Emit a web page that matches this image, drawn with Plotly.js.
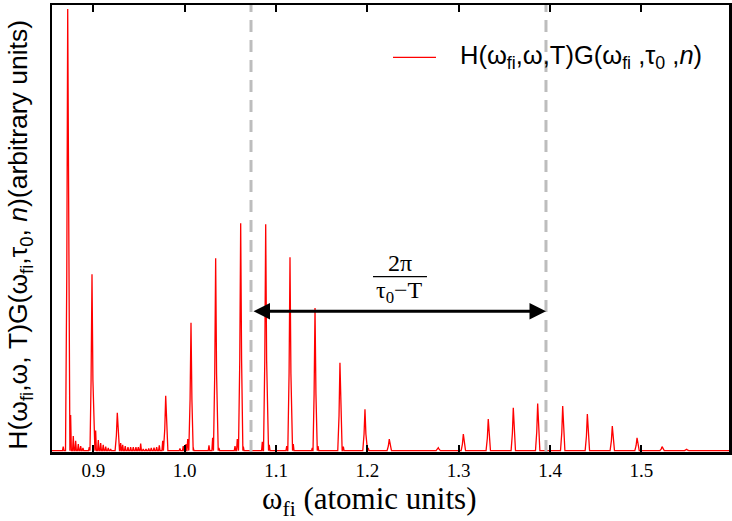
<!DOCTYPE html>
<html>
<head>
<meta charset="utf-8">
<script src="https://cdn.plot.ly/plotly-3.0.1.min.js"></script>
<style>html,body{margin:0;padding:0;background:#fff;}#chart{width:732px;height:521px;}</style>
</head>
<body>
<div id="chart"></div>
<script>
// Main resonance peaks: centre frequency (atomic units) and height (arbitrary units)
const peakOmega = [0.8719, 0.8985, 0.9262, 0.9792, 1.0069, 1.0339, 1.0613, 1.0887, 1.1153, 1.1427, 1.1700, 1.1974, 1.2240, 1.2777, 1.3051, 1.3324, 1.3598, 1.3865, 1.4139, 1.4409, 1.4682, 1.4953, 1.5227, 1.5497];
const peakHeight = [0.991, 0.396, 0.085, 0.123, 0.287, 0.432, 0.510, 0.508, 0.434, 0.320, 0.197, 0.093, 0.026, 0.0067, 0.037, 0.071, 0.096, 0.106, 0.100, 0.082, 0.055, 0.029, 0.009, 0.003];
// Small side lobes next to the peaks
const lobeOmega = [0.8670, 0.8751, 0.8780, 0.8806, 0.8835, 0.8861, 0.8886, 0.8955, 0.9025, 0.9054, 0.9080, 0.9108, 0.9135, 0.9163, 0.9189, 0.9299, 0.9321, 0.9349, 0.9379, 0.9408, 0.9437, 0.9466, 0.9492, 0.9518, 0.9546, 0.9576, 0.9606, 0.9634, 0.9664, 0.9693, 0.9722, 0.9759, 0.9948, 0.9984, 1.0014, 1.0033, 1.0094, 1.0266, 1.0306, 1.0375, 1.0551, 1.0576, 1.0642, 1.0850, 1.0926, 1.1117, 1.1189, 1.1397, 1.1460, 1.1737, 1.2010];
const lobeHeight = [0.009, 0.080, 0.033, 0.022, 0.015, 0.010, 0.006, 0.008, 0.045, 0.024, 0.017, 0.013, 0.009, 0.006, 0.004, 0.017, 0.013, 0.010, 0.008, 0.008, 0.008, 0.008, 0.008, 0.016, 0.004, 0.004, 0.005, 0.006, 0.007, 0.008, 0.012, 0.022, 0.005, 0.010, 0.015, 0.026, 0.006, 0.012, 0.029, 0.006, 0.010, 0.026, 0.009, 0.020, 0.013, 0.010, 0.015, 0.006, 0.010, 0.009, 0.006];
const tickValues = [0.9, 1.0, 1.1, 1.2, 1.3, 1.4, 1.5];
const tickLabels = ['0.9', '1.0', '1.1', '1.2', '1.3', '1.4', '1.5'];
const markerOmega = [1.0726, 1.3956];   // dashed guide lines
const arrowLevel = 0.3131;
const seriesName = 'H(ω<sub>fi</sub>,ω,T)G(ω<sub>fi</sub> ,τ<sub>0</sub> ,<i>n</i>)';
const xTitle = 'ω<sub>fi</sub> (atomic units)';
const yTitle = 'H(ω<sub>fi</sub>,ω, T)G(ω<sub>fi</sub>,τ<sub>0</sub>, <i>n</i>)(arbitrary units)';
const xRange = [0.8547, 1.596];
const yRange = [-0.003, 1.0];

// Build the drawn curve from the peak lists (each peak a narrow spike on a zero baseline)
const pts = [];
pts.push([xRange[0], 0]);
peakOmega.forEach((c, i) => {
  const h = peakHeight[i];
  pts.push([c - 0.0024, 0], [c - 0.0010, 0.4 * h], [c, h], [c + 0.0010, 0.4 * h], [c + 0.0024, 0]);
});
lobeOmega.forEach((c, i) => {
  pts.push([c - 0.0008, 0], [c, lobeHeight[i]], [c + 0.0008, 0]);
});
pts.push([xRange[1], 0]);
pts.sort((a, b) => a[0] - b[0]);
const curveX = pts.map(p => p[0]);
const curveY = pts.map(p => p[1]);

const trace = {
  x: curveX, y: curveY, type: 'scatter', mode: 'lines',
  line: {color: '#ff0000', width: 1.3},
  name: seriesName, showlegend: false
};

const serif = 'Liberation Serif, Times New Roman, serif';
const sans = 'Liberation Sans, Arial, sans-serif';

const layout = {
  width: 732, height: 521,
  margin: {l: 52, r: 3, t: 5, b: 69},
  paper_bgcolor: '#ffffff', plot_bgcolor: '#ffffff',
  showlegend: false,
  xaxis: {
    range: xRange, tickmode: 'array', tickvals: tickValues, ticktext: tickLabels,
    ticks: 'inside', ticklen: 7, tickwidth: 2, tickcolor: '#000',
    showline: true, linewidth: 2.5, linecolor: '#000', mirror: 'ticks',
    showgrid: false, zeroline: false,
    tickfont: {family: serif, size: 19, color: '#000'}
  },
  yaxis: {
    range: yRange, showticklabels: false, ticks: '',
    showline: true, linewidth: 2.5, linecolor: '#000', mirror: true,
    showgrid: false, zeroline: false
  },
  shapes: [
    ...markerOmega.map(v => ({type: 'line', xref: 'x', yref: 'paper', x0: v, x1: v, y0: 0, y1: 1,
      line: {color: '#bdbdbd', width: 3, dash: '12px,8px'}})),
    {type: 'line', xref: 'x', yref: 'y', x0: 1.2062, x1: 1.2653, y0: 0.3904, y1: 0.3904, line: {color: '#000', width: 1.2}},
    // legend sample line
    {type: 'line', xref: 'paper', yref: 'paper', x0: 0.5037, x1: 0.5672, y0: 0.883, y1: 0.883, line: {color: '#ff0000', width: 1.3}}
  ],
  annotations: [
    {x: markerOmega[1], y: arrowLevel, ax: 1.0737, ay: arrowLevel, xref: 'x', yref: 'y', axref: 'x', ayref: 'y',
     text: '', showarrow: true, arrowhead: 2, startarrowhead: 2, arrowside: 'end+start',
     arrowwidth: 3, arrowsize: 1.1, startarrowsize: 1.1, arrowcolor: '#000', standoff: 0, startstandoff: 0},
    {x: 1.2357, y: 0.421, xref: 'x', yref: 'y', text: '2π', showarrow: false,
     font: {family: serif, size: 24, color: '#000'}},
    {x: 1.2357, y: 0.357, xref: 'x', yref: 'y', text: 'τ<sub>0</sub>−T', showarrow: false,
     font: {family: serif, size: 24, color: '#000'}},
    // legend text
    {x: 0.5995, y: 0.883, xref: 'paper', yref: 'paper', xanchor: 'left', yanchor: 'middle', text: seriesName,
     showarrow: false, font: {family: sans, size: 25.5, color: '#000'}},
    // x axis title
    {x: 0.468, y: -0.1095, xref: 'paper', yref: 'paper', xanchor: 'center', yanchor: 'middle', text: xTitle,
     showarrow: false, font: {family: serif, size: 31, color: '#000'}},
    // y axis title
    {x: -0.0473, y: 0.486, xref: 'paper', yref: 'paper', xanchor: 'center', yanchor: 'middle', textangle: -90,
     text: yTitle, showarrow: false, font: {family: sans, size: 26.5, color: '#000'}}
  ]
};

Plotly.newPlot('chart', [trace], layout, {displayModeBar: false, staticPlot: true});
</script>
</body>
</html>
